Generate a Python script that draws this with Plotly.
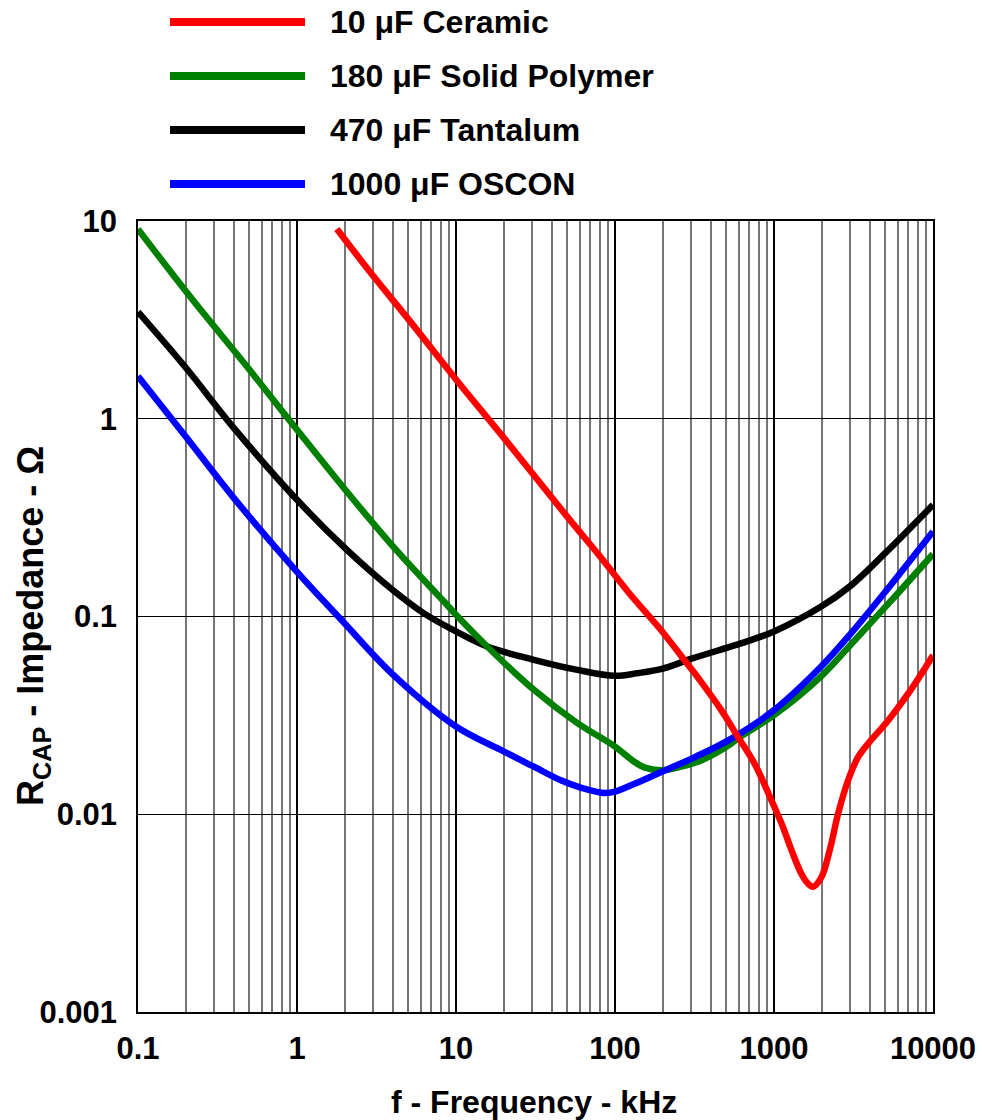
import plotly.graph_objects as go

# Impedance vs frequency for four output capacitor types (f in kHz, Z in ohms)
freq_ceramic = [1.78, 3, 5, 10, 20, 50, 81, 124, 194, 272, 348, 466, 593, 755, 985,
                1140, 1286, 1486, 1620, 1762, 1986, 2242, 2533, 2928, 3385, 3916,
                5235, 7710, 10000]
z_ceramic = [9.1, 5.3, 3.2, 1.58, 0.8, 0.32, 0.2, 0.13, 0.0857, 0.0604, 0.0467,
             0.0336, 0.0246, 0.018, 0.0113, 0.0086, 0.0066, 0.0050, 0.0045, 0.0043,
             0.0048, 0.0066, 0.0101, 0.0149, 0.0195, 0.0228, 0.0299, 0.0458, 0.0637]

freq_polymer = [0.1, 0.21, 0.5, 1, 2, 4.2, 8.4, 10, 15.7, 30.9, 58, 100,
                130, 154, 197, 260, 348, 519, 593, 1000, 1986, 3222, 5800, 10000]
z_polymer = [9.1, 4.2, 1.78, 0.88, 0.44, 0.217, 0.119, 0.102, 0.0705, 0.0426,
             0.0289, 0.022, 0.0186, 0.0172, 0.0167, 0.0174, 0.0187,
             0.0223, 0.0242, 0.0317, 0.050, 0.0759, 0.127, 0.207]

freq_tantalum = [0.1, 0.2, 0.4, 1, 2.06, 4.0, 6.25, 10, 15.7, 30.9, 58, 100, 137,
                 200, 300, 700, 1000, 1970, 3000, 5000, 10000]
z_tantalum = [3.47, 1.81, 0.90, 0.389, 0.217, 0.136, 0.104, 0.084, 0.0705, 0.0604,
              0.0537, 0.0501, 0.0516, 0.0545, 0.061, 0.0755, 0.084, 0.112, 0.142,
              0.209, 0.367]

freq_oscon = [0.1, 0.2, 0.4, 1, 1.95, 4.0, 10, 19, 30.9, 46, 61.6, 86.5, 100, 134,
              197, 320, 519, 1000, 1986, 3000, 5000, 10000]
z_oscon = [1.64, 0.81, 0.398, 0.168, 0.094, 0.051, 0.0278, 0.0212, 0.0174,
           0.0148, 0.0136, 0.0128, 0.013, 0.0143, 0.0164, 0.0195, 0.0237, 0.0336,
           0.056, 0.081, 0.133, 0.269]

series_names = ["10 μF Ceramic", "180 μF Solid Polymer", "470 μF Tantalum", "1000 μF OSCON"]
series_colors = ["#FF0000", "#008000", "#000000", "#0000FF"]

x_tick_vals = [0.1, 1, 10, 100, 1000, 10000]
x_tick_text = ["0.1", "1", "10", "100", "1000", "10000"]
y_tick_vals = [0.001, 0.01, 0.1, 1, 10]
y_tick_text = ["0.001", "0.01", "0.1", "1", "10"]

FONT = "Liberation Sans, Arial, sans-serif"
LINE_W = 6.5

# Figure geometry (pixels)
W, H = 982, 1120
ML, MR, MT, MB = 138, 49, 221, 108
PW, PH = W - ML - MR, H - MT - MB


def px_x(px):
    return (px - ML) / PW


def px_y(py):
    return (H - MB - py) / PH


data = {
    "10 μF Ceramic": (freq_ceramic, z_ceramic),
    "180 μF Solid Polymer": (freq_polymer, z_polymer),
    "470 μF Tantalum": (freq_tantalum, z_tantalum),
    "1000 μF OSCON": (freq_oscon, z_oscon),
}
color_of = dict(zip(series_names, series_colors))

fig = go.Figure()
# drawing order: tantalum underneath, ceramic on top
for name in ["470 μF Tantalum", "180 μF Solid Polymer", "1000 μF OSCON", "10 μF Ceramic"]:
    fx, fz = data[name]
    fig.add_trace(go.Scatter(
        x=fx, y=fz, name=name, mode="lines",
        line=dict(color=color_of[name], width=LINE_W, shape="spline", smoothing=1.0),
        showlegend=False,
    ))

# minor gridlines at 2..9 of each decade
minor_vals = [m * 10 ** d for d in range(-1, 4) for m in range(2, 10)]

fig.update_xaxes(
    type="log", range=[-1, 4],
    tickvals=x_tick_vals, ticktext=x_tick_text,
    tickfont=dict(family=FONT, size=31, color="black", weight="bold"),
    ticks="", ticklabelstandoff=8,
    showgrid=True, gridcolor="#000000", gridwidth=1.5,
    minor=dict(tickvals=minor_vals, showgrid=True, gridcolor="#767676", gridwidth=1.5, ticks=""),
    showline=True, linecolor="black", linewidth=1.5, mirror=True,
    zeroline=False,
)
fig.update_yaxes(
    type="log", range=[-3, 1],
    tickvals=y_tick_vals, ticktext=y_tick_text,
    tickfont=dict(family=FONT, size=31, color="black", weight="bold"),
    ticks="", ticklabelstandoff=13,
    showgrid=True, gridcolor="#000000", gridwidth=1,
    showline=True, linecolor="black", linewidth=1.5, mirror=True,
    zeroline=False,
)

# legend drawn as line swatches with labels above the plot
legend_rows_px = [22, 76, 130, 184]
shapes = []
annotations = []
for name, row in zip(series_names, legend_rows_px):
    shapes.append(dict(
        type="line", xref="paper", yref="paper",
        x0=px_x(170), x1=px_x(305), y0=px_y(row), y1=px_y(row),
        line=dict(color=color_of[name], width=8),
    ))
    annotations.append(dict(
        xref="paper", yref="paper", x=px_x(328), y=px_y(row),
        xanchor="left", yanchor="middle", showarrow=False, text=name,
        font=dict(family=FONT, size=32, color="black", weight="bold"),
    ))

# axis titles
annotations.append(dict(
    xref="paper", yref="paper", x=0.5 * (px_x(390) + px_x(678)), y=px_y(1102),
    xanchor="center", yanchor="middle", showarrow=False,
    text="f - Frequency - kHz",
    font=dict(family=FONT, size=32, color="black", weight="bold"),
))
annotations.append(dict(
    xref="paper", yref="paper", x=px_x(33), y=px_y(626),
    xanchor="center", yanchor="middle", showarrow=False, textangle=-90,
    text="R<sub>CAP</sub> - Impedance - Ω",
    font=dict(family=FONT, size=36, color="black", weight="bold"),
))

fig.update_layout(
    width=W, height=H,
    margin=dict(l=ML, r=MR, t=MT, b=MB, autoexpand=False),
    paper_bgcolor="white", plot_bgcolor="white",
    shapes=shapes, annotations=annotations,
    showlegend=False,
)

fig.write_html("out.html")
